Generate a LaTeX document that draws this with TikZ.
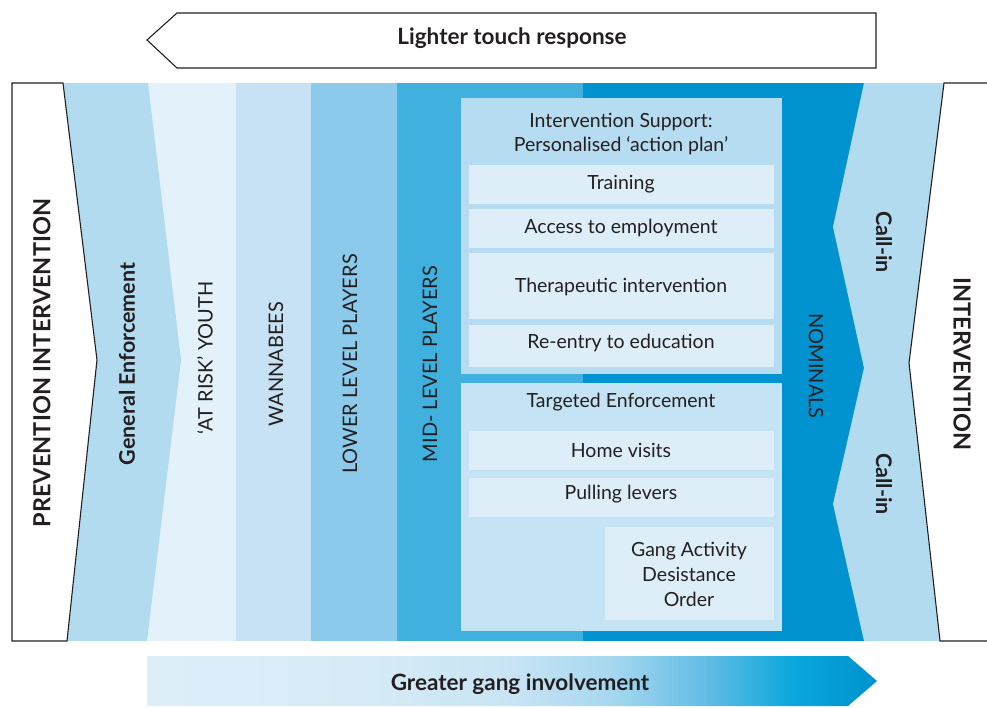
\documentclass[tikz,border=0pt]{standalone}
\usepackage{fontspec}
\setmainfont{Lato}
\definecolor{ink}{HTML}{231F20}
\definecolor{geblue}{HTML}{B3DBF0}
\definecolor{atrisk}{HTML}{E3F1FA}
\definecolor{wanna}{HTML}{C6E2F4}
\definecolor{lowerc}{HTML}{8BCAEB}
\definecolor{midc}{HTML}{40B1DF}
\definecolor{nomc}{HTML}{0093CF}
\definecolor{panela}{HTML}{B5DCF0}
\definecolor{panelb}{HTML}{C4E3F4}
\definecolor{innerc}{HTML}{DDEEF8}
\definecolor{sh1}{HTML}{D6EBF7}
\definecolor{sh2}{HTML}{C8E4F4}
\definecolor{sh3}{HTML}{A5D7EF}
\definecolor{sh4}{HTML}{5AB9E3}
\definecolor{sh5}{HTML}{0CA8DC}
\definecolor{sh6}{HTML}{0095D0}
\pgfdeclarehorizontalshading{gangshade}{100bp}{color(0bp)=(innerc); color(25bp)=(innerc); color(40bp)=(sh1); color(50bp)=(sh2); color(57bp)=(sh3); color(64bp)=(sh4); color(69bp)=(sh5); color(74bp)=(sh6); color(100bp)=(sh6)}
\tikzset{
  outline/.style={draw=ink, line width=1.1pt},
  boxtext/.style={text=ink, font=\fontsize{19.5}{24}\selectfont, align=center, inner sep=0pt},
  bandtext/.style={text=ink, font=\fontsize{20}{22}\selectfont, inner sep=0pt},
  boldtext/.style={text=ink, font=\fontsize{21.5}{24}\selectfont\bfseries, inner sep=0pt},
  bigbold/.style={text=ink, font=\fontsize{23.5}{26}\selectfont\bfseries, inner sep=0pt},
  arrowtext/.style={text=ink, font=\fontsize{22.5}{26}\selectfont\bfseries, inner sep=0pt},
}
\begin{document}
\begin{tikzpicture}[x=1pt,y=-1pt]
\useasboundingbox (0,0) rectangle (987,707);
% top arrow
\draw[outline] (147,40) -- (177,13) -- (876,13) -- (876,68) -- (177,68) -- cycle;
\node[arrowtext] (light) at (512,38) {Lighter touch response};
% bands
\fill[nomc] (583,83) rectangle (900,641);
\fill[midc] (397,83) rectangle (583,641);
\fill[lowerc] (311,83) rectangle (397,641);
\fill[wanna] (236,83) rectangle (311,641);
\fill[atrisk] (140,83) rectangle (236,641);
\fill[geblue] (63,83) -- (148,83) -- (181,360) -- (147,641) -- (67,641) -- (97,360) -- cycle;
\draw[outline, fill=white] (12,83) -- (63,83) -- (97,360) -- (67,641) -- (12,641) -- cycle;
\fill[geblue] (864,83) -- (944,83) -- (909,363) -- (940,641) -- (864,641) -- (833,504) -- (864,368) -- (833,227) -- cycle;
\fill[white] (944,83) -- (987,83) -- (987,641) -- (940,641) -- (909,363) -- cycle;
\draw[outline] (987,83) -- (944,83) -- (909,363) -- (940,641) -- (987,641);
% band labels
\node[bigbold, rotate=90] (prev) at (42,363) {PREVENTION INTERVENTION};
\node[boldtext, rotate=90] (genenf) at (127,364) {General Enforcement};
\node[bandtext, rotate=90] (atr) at (205,358) {‘AT RISK’ YOUTH};
\node[bandtext, rotate=90] (wan) at (276,364) {WANNABEES};
\node[bandtext, rotate=90] (low) at (350,364) {LOWER LEVEL PLAYERS};
\node[bandtext, rotate=90] (midp) at (430,364) {MID- LEVEL PLAYERS};
\node[bandtext, rotate=-90] (nom) at (816,366) {NOMINALS};
\node[boldtext, rotate=-90] (call1) at (884,242) {Call-in};
\node[boldtext, rotate=-90] (call2) at (884,484) {Call-in};
\node[bigbold, rotate=-90] (interv) at (962,364) {INTERVENTION};
% upper panel
\fill[panela] (461,98) rectangle (782,374);
\node[boxtext] (supp) at (621,134) {Intervention Support:\\Personalised ‘action plan’};
\fill[innerc] (469,165) rectangle (774,204);
\node[boxtext] (train) at (621,184) {Training};
\fill[innerc] (469,209) rectangle (774,248);
\node[boxtext] (access) at (621,228) {Access to employment};
\fill[innerc] (469,253) rectangle (774,319);
\node[boxtext] (thera) at (621,287) {Therapeutic intervention};
\fill[innerc] (469,325) rectangle (774,367);
\node[boxtext] (reentry) at (621,343) {Re-entry to education};
% lower panel
\fill[panelb] (461,383) rectangle (782,631);
\node[boxtext] (targ) at (621,402) {Targeted Enforcement};
\fill[innerc] (469,431) rectangle (774,470);
\node[boxtext] (home) at (621,450) {Home visits};
\fill[innerc] (469,478) rectangle (774,517);
\node[boxtext] (pull) at (621,494) {Pulling levers};
\fill[innerc] (605,527) rectangle (774,620);
\node[boxtext, font=\fontsize{19.5}{25}\selectfont] (gado) at (689,574) {Gang Activity\\Desistance\\Order};
% bottom arrow
\shade[shading=gangshade] (147,656) -- (848,656) -- (877,681) -- (848,706) -- (147,706) -- cycle;
\node[arrowtext] (greater) at (520,684) {Greater gang involvement};
\end{tikzpicture}
\end{document}
